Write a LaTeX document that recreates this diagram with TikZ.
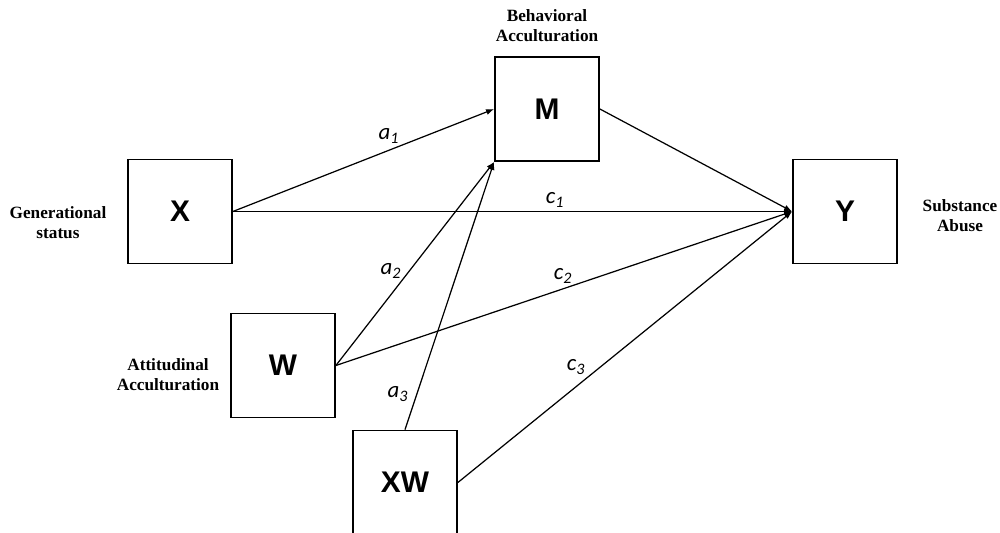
\documentclass[tikz,border=0pt]{standalone}
\usepackage{fontspec}
\setmainfont{Liberation Serif}
\newfontfamily\varfont{Liberation Sans}
\newfontfamily\pathfont{Carlito}
\usetikzlibrary{arrows.meta,positioning}

\begin{document}
\begin{tikzpicture}[
  var/.style={draw=black,line width=1pt,minimum size=2.08cm,inner sep=0pt,font=\varfont\bfseries\fontsize{17}{20}\selectfont},
  desc/.style={align=center,inner sep=0pt,font=\bfseries\fontsize{9.8}{11.5}\selectfont},
  coef/.style={inner sep=0pt,font=\pathfont\itshape\fontsize{13}{15}\selectfont},
  ar/.style={-{Latex[length=1.6mm,width=1.2mm]},line width=0.7pt}]
\useasboundingbox (0,0) rectangle (20,-10.66);
\node[var] (X) at (3.6,-4.23) {X};
\node[var] (M) at (10.94,-2.18) {M};
\node[var] (Y) at (16.9,-4.23) {Y};
\node[var] (W) at (5.66,-7.31) {W};
\node[var] (XW) at (8.1,-9.65) {XW};
\node[desc] (dX) at (1.16,-4.46) {Generational\\status};
\node[desc] (dM) at (10.94,-0.52) {Behavioral\\Acculturation};
\node[desc] (dY) at (19.2,-4.32) {Substance\\Abuse};
\node[desc] (dW) at (3.36,-7.5) {Attitudinal\\Acculturation};
\draw[ar] (X.east) -- (M.west);
\draw[ar] (W.east) -- (M.south west);
\draw[ar] (XW.north) -- (M.south west);
\foreach \s in {X,M,W,XW} \draw[ar] (\s.east) -- (Y.west);
\node[coef] (a1) at (7.78,-2.72) {a\textsubscript{1}};
\node[coef] (a2) at (7.82,-5.42) {a\textsubscript{2}};
\node[coef] (a3) at (7.96,-7.88) {a\textsubscript{3}};
\node[coef] (c1) at (11.1,-4.0) {c\textsubscript{1}};
\node[coef] (c2) at (11.26,-5.52) {c\textsubscript{2}};
\node[coef] (c3) at (11.52,-7.34) {c\textsubscript{3}};
\end{tikzpicture}
\end{document}
